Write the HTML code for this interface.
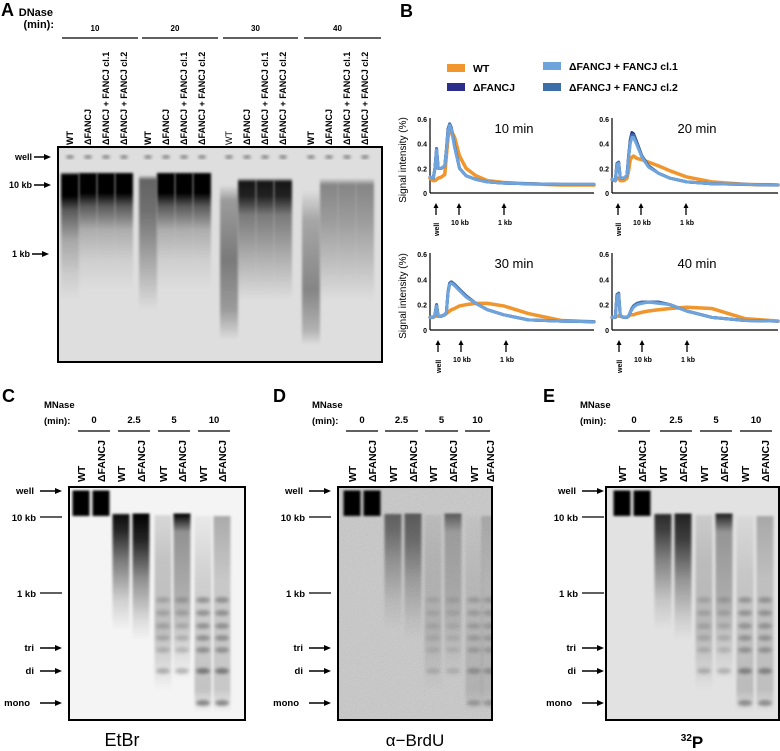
<!DOCTYPE html>
<html><head><meta charset="utf-8"><style>
html,body{margin:0;padding:0;background:#fff}
svg{display:block;font-family:"Liberation Sans",sans-serif}
</style></head><body>
<svg id="fig" width="780" height="751" viewBox="0 0 780 751">
<defs>
<filter id="blur" x="-30%" y="-5%" width="160%" height="110%"><feGaussianBlur stdDeviation="1.2 1"/></filter>
<filter id="blur2" x="-30%" y="-60%" width="160%" height="220%"><feGaussianBlur stdDeviation="1.5 1.6"/></filter>
<filter id="grain" x="0" y="0" width="100%" height="100%"><feTurbulence type="fractalNoise" baseFrequency="0.9" numOctaves="2" seed="3"/><feColorMatrix type="saturate" values="0"/><feComponentTransfer><feFuncA type="table" tableValues="0 0.3"/></feComponentTransfer></filter>
</defs>
<g id="root"></g>
</svg>
<script>
// ===== Panel B data (signal intensity profiles) =====
const positions = [0,2,3,4,5,7,9,10,11,12,13,15,18,22,28,35,45,60,80,100];
const yTicks = [0,0.2,0.4,0.6];
const yTickLabels = ["0","0.2","0.4","0.6"];
const plotTitles = ["10 min","20 min","30 min","40 min"];
const wt10  = [0.12,0.10,0.10,0.11,0.12,0.13,0.15,0.30,0.45,0.50,0.50,0.45,0.30,0.20,0.14,0.10,0.085,0.075,0.065,0.065];
const df10  = [0.13,0.12,0.20,0.36,0.20,0.20,0.22,0.35,0.52,0.56,0.53,0.38,0.20,0.14,0.11,0.09,0.08,0.075,0.07,0.07];
const c110  = [0.13,0.12,0.20,0.35,0.20,0.20,0.22,0.34,0.50,0.55,0.52,0.37,0.20,0.14,0.11,0.09,0.08,0.075,0.07,0.07];
const c210  = [0.13,0.12,0.20,0.36,0.20,0.20,0.22,0.35,0.51,0.56,0.52,0.38,0.20,0.14,0.11,0.09,0.08,0.075,0.07,0.07];
const wt20  = [0.11,0.10,0.12,0.12,0.10,0.10,0.12,0.18,0.27,0.29,0.30,0.28,0.27,0.25,0.22,0.18,0.13,0.09,0.07,0.065];
const df20  = [0.11,0.10,0.24,0.25,0.12,0.12,0.14,0.30,0.43,0.49,0.48,0.41,0.30,0.22,0.16,0.12,0.09,0.075,0.07,0.065];
const c120  = [0.11,0.10,0.23,0.24,0.12,0.12,0.14,0.28,0.40,0.45,0.45,0.39,0.29,0.21,0.16,0.12,0.09,0.075,0.07,0.065];
const c220  = [0.11,0.10,0.24,0.25,0.12,0.12,0.14,0.29,0.42,0.47,0.47,0.40,0.30,0.22,0.16,0.12,0.09,0.075,0.07,0.065];
const wt30  = [0.10,0.10,0.11,0.11,0.11,0.11,0.12,0.13,0.14,0.15,0.16,0.17,0.19,0.20,0.21,0.21,0.19,0.13,0.075,0.065];
const df30  = [0.10,0.10,0.12,0.20,0.11,0.11,0.12,0.14,0.30,0.37,0.38,0.36,0.32,0.27,0.21,0.16,0.12,0.08,0.07,0.065];
const c130  = [0.10,0.10,0.12,0.19,0.11,0.11,0.12,0.14,0.29,0.36,0.37,0.35,0.31,0.26,0.21,0.16,0.12,0.08,0.07,0.065];
const c230  = [0.10,0.10,0.12,0.20,0.11,0.11,0.12,0.14,0.30,0.37,0.38,0.36,0.32,0.27,0.21,0.16,0.12,0.08,0.07,0.065];
const wt40  = [0.10,0.10,0.11,0.11,0.11,0.10,0.10,0.11,0.12,0.12,0.12,0.13,0.14,0.15,0.16,0.17,0.18,0.17,0.09,0.07];
const df40  = [0.10,0.10,0.28,0.29,0.11,0.10,0.10,0.11,0.14,0.17,0.19,0.21,0.22,0.22,0.22,0.20,0.15,0.10,0.075,0.07];
const c140  = [0.10,0.10,0.27,0.28,0.11,0.10,0.10,0.11,0.14,0.16,0.18,0.20,0.21,0.22,0.21,0.20,0.15,0.10,0.075,0.07];
const c240  = [0.10,0.10,0.28,0.29,0.11,0.10,0.10,0.11,0.14,0.17,0.19,0.21,0.22,0.22,0.22,0.20,0.15,0.10,0.075,0.07];

const NS="http://www.w3.org/2000/svg";
const root=document.getElementById('root');
function el(tag,attrs,parent,text){const e=document.createElementNS(NS,tag);for(const k in attrs)e.setAttribute(k,attrs[k]);if(text!==undefined)e.textContent=text;(parent||root).appendChild(e);return e;}
let gid=0;
function txt(x,y,s,size,anchor,name,extra){const t=el('text',Object.assign({x:x,y:y,'font-size':size,'font-weight':'bold','text-anchor':anchor||'start'},extra||{}),root,s);


return t;}
function arrowR(x1,x2,y,name){const g=el('g',{});


el('line',{x1:x1,y1:y,x2:x2-5,y2:y,stroke:'#000','stroke-width':1.5},g);el('polygon',{points:`${x2},${y} ${x2-7},${y-3} ${x2-7},${y+3}`,fill:'#000'},g);}
function tickLine(x1,x2,y,name){const l=el('line',{x1:x1,y1:y,x2:x2,y2:y,stroke:'#000','stroke-width':1.3});

}
function lane(g,x,w,stops,color){const id='g'+(gid++);const lg=el('linearGradient',{id:id,gradientUnits:'userSpaceOnUse',x1:0,x2:0,y1:stops[0][0],y2:stops[stops.length-1][0]},document.querySelector('defs'));
const y0=stops[0][0],y1=stops[stops.length-1][0];
stops.forEach(s=>el('stop',{offset:(s[0]-y0)/(y1-y0),'stop-color':color||'#000','stop-opacity':s[1]},lg));
const r=el('rect',{x:x-w/2,y:y0,width:w,height:y1-y0,fill:`url(#${id})`,filter:'url(#blur)'},g);

}
function band(g,x,w,y,h,op){const r=el('ellipse',{cx:x,cy:y,rx:w/2,ry:h/2,fill:'#000','fill-opacity':op,filter:'url(#blur2)'},g);

}
function gelBox(x,y,w,h,bg,name,grain){const g=el('g',{});


el('rect',{x:x,y:y,width:w,height:h,fill:bg},g);
const cp='cp'+(gid++);const c=el('clipPath',{id:cp},document.querySelector('defs'));el('rect',{x:x,y:y,width:w,height:h},c);
const inner=el('g',{'clip-path':`url(#${cp})`},g);
if(grain)el('rect',{x:x,y:y,width:w,height:h,filter:'url(#grain)'},inner);
g._inner=inner;g._frame=[x,y,w,h];return g;}
function frame(g){const [x,y,w,h]=g._frame;el('rect',{x:x,y:y,width:w,height:h,fill:'none',stroke:'#000','stroke-width':2},g);}
function laneLabel(x,ybot,s,size,name,light){const t=el('text',{x:x,y:ybot,'font-size':size,'font-weight':light?'normal':'bold','text-anchor':'start',transform:`rotate(-90 ${x} ${ybot})`},root,s);

}

// ================= Panel A =================
txt(1,16,'A',18,'start','panel-a-label');
txt(53,16,'DNase',11,'end','dnase-label');
txt(54,28,'(min):',11,'end','dnase-min-label');
const aGroups=['10','20','30','40'];
const aGroupX=[[62,138],[142,218],[223,298],[304,381]];
aGroups.forEach((s,i)=>{txt((aGroupX[i][0]+aGroupX[i][1])/2-5,31,s,8,'middle','dnase-time-'+s);
const l=el('line',{x1:aGroupX[i][0],y1:38,x2:aGroupX[i][1],y2:38,stroke:'#000','stroke-width':1.2});

});
const aLaneNames=['WT','\u0394FANCJ','\u0394FANCJ + FANCJ cl.1','\u0394FANCJ + FANCJ cl.2'];
const aLaneX=[70,88,106,124,148,166,184,202,229,247,265,283,311,329,347,365];
aLaneX.forEach((x,i)=>laneLabel(x+3,145,aLaneNames[i%4],9,'lane-label-a-'+i,i===8));
const gA=gelBox(58,147,324,215,'#dedede','gel-a');
const A10=[[172,0],[174,1],[193,1],[206,0.6],[230,0.22],[260,0.07],[290,0]];
const A10wt=[[172,0],[175,1],[196,1],[210,0.6],[240,0.25],[275,0.08],[300,0]];
const A20wt=[[175,0],[180,0.55],[210,0.5],[250,0.3],[290,0.1],[310,0]];
const A30wt=[[185,0],[200,0.3],[260,0.45],[310,0.3],[340,0]];
const A30=[[178,0],[182,0.9],[196,0.85],[215,0.45],[260,0.2],[300,0]];
const A40wt=[[190,0],[220,0.25],[290,0.4],[330,0.2],[345,0]];
const A40=[[178,0],[185,0.4],[220,0.3],[260,0.15],[300,0]];
aLaneX.forEach((x,i)=>{const grp=Math.floor(i/4),wt=i%4===0;let s;
if(grp===0)s=wt?A10wt:A10;else if(grp===1)s=wt?A20wt:A10;else if(grp===2)s=wt?A30wt:A30;else s=wt?A40wt:A40;
lane(gA._inner,x,18,s);band(gA._inner,x,8,157,2.5,0.6);});
frame(gA);
txt(32,160,'well',9,'end','marker-well-a');arrowR(34,51,157,'arrow-well-a');
txt(32,188,'10 kb',9,'end','marker-10kb-a');arrowR(34,51,185,'arrow-10kb-a');
txt(30,257,'1 kb',9,'end','marker-1kb-a');arrowR(32,49,254,'arrow-1kb-a');

// ================= Panel B =================
txt(400,17,'B',18,'start','panel-b-label');
const legend=[['WT','#f0962c',447,68],['\u0394FANCJ','#2b2f8c',447,87],['\u0394FANCJ + FANCJ cl.1','#6fa3dc',543,66],['\u0394FANCJ + FANCJ cl.2','#3c6ea8',543,87]];
legend.forEach((l,i)=>{const g=el('g',{});


el('rect',{x:l[2],y:l[3]-4,width:18,height:8,fill:l[1]},g);
el('text',{x:l[2]+26,y:l[3]+4,'font-size':10.5,'font-weight':'bold'},g,l[0]);});
const plots=[{x:430,w:164,y0:193,yt:119,wt:wt10,df:df10,c1:c110,c2:c210,arr:[436,459,504]},
{x:612,w:166,y0:193,yt:119,wt:wt20,df:df20,c1:c120,c2:c220,arr:[618,641,686]},
{x:430,w:164,y0:330,yt:254,wt:wt30,df:df30,c1:c130,c2:c230,arr:[438,461,506]},
{x:612,w:166,y0:330,yt:254,wt:wt40,df:df40,c1:c140,c2:c240,arr:[619,642,687]}];
plots.forEach((p,k)=>{const g=el('g',{});


const xs=v=>p.x+v/100*p.w, ys=v=>p.y0-(v/0.6)*(p.y0-p.yt);
el('line',{x1:p.x,y1:p.yt-1,x2:p.x,y2:p.y0,stroke:'#000','stroke-width':1.2},g);
el('line',{x1:p.x,y1:p.y0,x2:p.x+p.w,y2:p.y0,stroke:'#000','stroke-width':1.2},g);
yTicks.forEach((t,i)=>{el('text',{x:p.x-3,y:ys(t)+3,'font-size':7,'font-weight':'bold','text-anchor':'end'},g,yTickLabels[i]);});
el('text',{x:p.x+p.w*0.5+2,y:p.yt+14,'font-size':13,'text-anchor':'middle'},g,plotTitles[k]);
const series=[['wt',p.wt,'#f0962c'],['df',p.df,'#2b2f8c'],['cl2',p.c2,'#3c6ea8'],['cl1',p.c1,'#6fa3dc']];
series.forEach(s=>{const pl=el('polyline',{points:positions.map((v,i)=>xs(v)+','+ys(s[1][i])).join(' '),fill:'none',stroke:s[2],'stroke-width':s[0]==='wt'?3.5:3,'stroke-linejoin':'round','stroke-linecap':'round'},g);

});
const ay=p.y0+10;
p.arr.forEach((ax,j)=>{el('line',{x1:ax,y1:ay+12,x2:ax,y2:ay+3,stroke:'#000','stroke-width':1.3},g);el('polygon',{points:`${ax},${ay} ${ax-2.5},${ay+5} ${ax+2.5},${ay+5}`},g);});
el('text',{x:p.arr[0]+3,y:ay+33,'font-size':7,'font-weight':'bold',transform:`rotate(-90 ${p.arr[0]+3} ${ay+33})`},g,'well');
el('text',{x:p.arr[1]+1,y:ay+22,'font-size':7,'font-weight':'bold','text-anchor':'middle'},g,'10 kb');
el('text',{x:p.arr[2]+1,y:ay+22,'font-size':7,'font-weight':'bold','text-anchor':'middle'},g,'1 kb');
if(p.x===430){el('text',{x:p.x-24,y:(p.y0+p.yt)/2+4,'font-size':10,'text-anchor':'middle',transform:`rotate(-90 ${p.x-24} ${(p.y0+p.yt)/2+4})`},g,'Signal intensity (%)');}
});

// ================= Panels C, D, E =================
const cdeGroups=['0','2.5','5','10'];
function mnasePanel(cfg){
txt(cfg.letterX,402,cfg.letter,18,'start','panel-'+cfg.letter.toLowerCase()+'-label');
txt(cfg.mx,408,'MNase',9.5,'start','mnase-label-'+cfg.letter);
txt(cfg.mx,424,'(min):',9.5,'start','mnase-min-label-'+cfg.letter);
cfg.groups.forEach((gx,i)=>{txt((gx[0]+gx[1])/2,423,cdeGroups[i],9.5,'middle','mnase-time-'+cfg.letter+'-'+i);
const l=el('line',{x1:gx[0],y1:431,x2:gx[1],y2:431,stroke:'#000','stroke-width':1.2});

});
cfg.lanes.forEach((x,i)=>laneLabel(x+4,482,i%2?'\u0394FANCJ':'WT',10.5,'lane-label-'+cfg.letter+'-'+i));
const g=gelBox(cfg.box[0],487,cfg.box[1]-cfg.box[0],233,cfg.bg,'gel-'+cfg.letter.toLowerCase(),cfg.grain);
const I=g._inner,L=cfg.lanes,w=17,k=cfg.k;
[0,1].forEach(i=>{lane(I,L[i],w,[[490,0],[491,1],[515,1],[517,0]]);});
lane(I,L[2],w,[[513,0],[515,0.95*k],[530,0.85*k],[560,0.5*k],[600,0.15*k],[630,0]]);
lane(I,L[3],w,[[513,0],[514,1*k],[540,0.85*k],[580,0.4*k],[620,0.1*k],[640,0]]);
lane(I,L[4],w,[[514,0],[516,0.12*k],[560,0.2*k],[630,0.22*k],[660,0.12*k],[690,0]]);
lane(I,L[5],w,[[513,0],[514,1*k],[520,0.8*k],[532,0.4*k],[600,0.28*k],[680,0]]);
lane(I,L[6],w,[[515,0],[517,0.05*k],[580,0.15*k],[690,0.2*k],[712,0]]);
lane(I,L[7],w,[[515,0],[517,0.3*k],[580,0.18*k],[690,0.18*k],[712,0]]);
const ladder=[600,613,626,638,650,671,703];
[4,5,6,7].forEach(i=>ladder.forEach((y,j)=>{if(j===6&&i<6)return;band(I,L[i],w-3,y,6,(i>=6?0.28:0.16)*k*(j>=5?1.4:1));}));
frame(g);
const ax=cfg.ax;
txt(ax-6,494,'well',9.5,'end','marker-well-'+cfg.letter);arrowR(ax,ax+22,491,'arrow-well-'+cfg.letter);
txt(ax-4,521,'10 kb',9.5,'end','marker-10kb-'+cfg.letter);tickLine(ax,ax+22,517,'tick-10kb-'+cfg.letter);
txt(ax-4,597,'1 kb',9.5,'end','marker-1kb-'+cfg.letter);tickLine(ax,ax+22,593,'tick-1kb-'+cfg.letter);
txt(ax-6,651,'tri',9.5,'end','marker-tri-'+cfg.letter);arrowR(ax,ax+22,648,'arrow-tri-'+cfg.letter);
txt(ax-6,674,'di',9.5,'end','marker-di-'+cfg.letter);arrowR(ax,ax+22,671,'arrow-di-'+cfg.letter);
txt(ax-10,706,'mono',9.5,'end','marker-mono-'+cfg.letter);arrowR(ax,ax+22,703,'arrow-mono-'+cfg.letter);
}
mnasePanel({letter:'C',letterX:2,mx:44,groups:[[78,110],[118,150],[158,190],[198,230]],lanes:[81,101,121,141,163,182,203,222],box:[69,245],bg:'#f4f4f4',k:1,ax:40});
mnasePanel({letter:'D',letterX:273,mx:312,groups:[[346,378],[385,418],[425,458],[465,490]],lanes:[352,372,393,413,433,453,474,490],box:[338,492],bg:'#c9c9c9',grain:true,k:0.55,ax:309});
mnasePanel({letter:'E',letterX:543,mx:580,groups:[[618,650],[660,692],[700,732],[740,772]],lanes:[622,642,663,683,704,724,745,765],box:[606,779],bg:'#e2e2e2',k:0.85,ax:582});
txt(122,746,'EtBr',18,'middle','caption-etbr',{'font-weight':'normal'});
txt(415,746,'\u03b1\u2212BrdU',17,'middle','caption-brdu',{'font-weight':'normal'});
const p32=el('text',{x:692,y:748,'font-size':17,'font-weight':'bold','text-anchor':'middle'},root);


el('tspan',{'font-size':10,dy:-7},p32,'32');el('tspan',{dy:7},p32,'P');
</script>
</body></html>
